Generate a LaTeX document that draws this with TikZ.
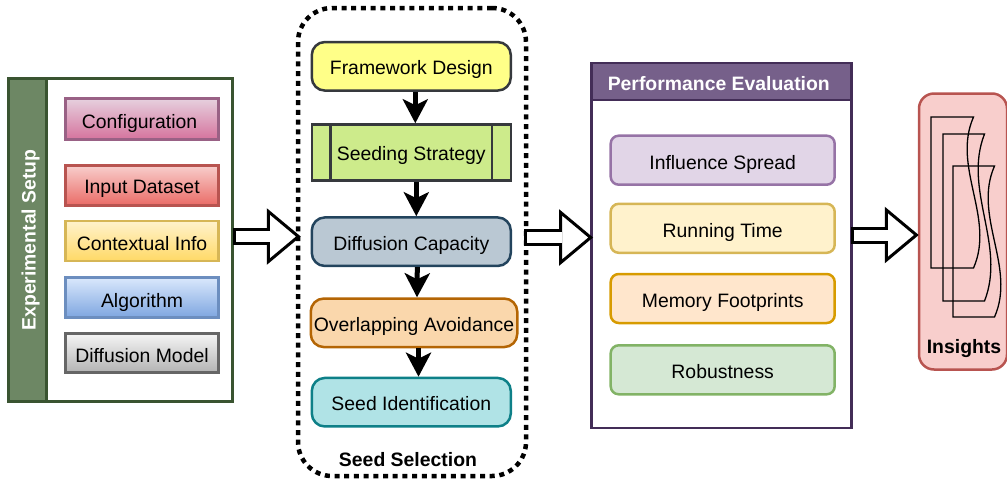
\documentclass[tikz,border=0pt]{standalone}
\usepackage{fontspec}
\setmainfont{Liberation Sans}
\usetikzlibrary{arrows.meta}

\definecolor{setupdark}{HTML}{3A5431}
\definecolor{setupfill}{HTML}{6D8764}
\definecolor{evaldark}{HTML}{432D57}
\definecolor{evalfill}{HTML}{76608A}
\definecolor{slate}{HTML}{36393D}

\tikzset{
  setupbox/.style={rectangle, draw, line width=2.5pt, minimum width=153pt, minimum height=40pt},
  seedbox/.style={rectangle, rounded corners=13pt, draw, line width=2.5pt, minimum width=199pt, minimum height=48.5pt},
  evalbox/.style={rectangle, rounded corners=8pt, draw, line width=2.5pt, minimum width=224pt, minimum height=49pt},
  flowarrow/.style={line width=5pt, -{Stealth[length=24pt, width=25pt, inset=6pt]}},
  hollowarrow/.style={line width=3pt, double=white, double distance=11pt,
    {Bar[width=17pt, line width=3pt]}-{Triangle[open, length=34pt, width=56pt, fill=white]},
    postaction={draw=white, line width=11pt, double=none, -, shorten >=31pt, shorten <=3pt}},
}

\begin{document}
\begin{tikzpicture}[x=1pt, y=-1pt, inner sep=0pt, text height=17.5pt, text depth=0pt, font=\fontsize{19.4}{23}\selectfont]
  \useasboundingbox (0,0) rectangle (1007,480);

  % experimental setup
  \node[rectangle, draw=setupdark, line width=2.5pt, minimum width=224pt, minimum height=323pt] (setup) at (120.5,240) {};
  \node[rectangle, draw=setupdark, line width=2.5pt, fill=setupfill, rotate=90, anchor=north, minimum width=323pt, minimum height=38pt, text=white, text height=16pt] (setuphead) at (setup.west) {\textbf{Experimental Setup}};
  \node[setupbox, draw={rgb,255:red,153;green,97;blue,133}, top color={rgb,255:red,230;green,208;blue,222}, bottom color={rgb,255:red,213;green,115;blue,157}, minimum height=41pt, text height=19pt] (config) at (142,119) {\hspace{-5pt}Configuration};
  \node[setupbox, draw={rgb,255:red,184;green,84;blue,80}, top color={rgb,255:red,248;green,206;blue,204}, bottom color={rgb,255:red,234;green,107;blue,102}, below of=config, node distance=66.5pt, text height=16pt] (dataset) {Input Dataset};
  \node[setupbox, draw={rgb,255:red,214;green,182;blue,86}, top color={rgb,255:red,255;green,242;blue,204}, bottom color={rgb,255:red,255;green,217;blue,102}, below of=dataset, node distance=55.5pt, text height=19pt] (context) {Contextual Info};
  \node[setupbox, draw={rgb,255:red,108;green,142;blue,191}, top color={rgb,255:red,218;green,232;blue,252}, bottom color={rgb,255:red,126;green,166;blue,224}, below of=context, node distance=56.5pt, text height=19pt] (algo) {Algorithm};
  \node[setupbox, draw={rgb,255:red,102;green,102;blue,102}, top color={rgb,255:red,245;green,245;blue,245}, bottom color={rgb,255:red,179;green,179;blue,179}, below of=algo, node distance=55.5pt, minimum height=39pt, text height=19pt] (diffmodel) {Diffusion Model};

  % seed selection
  \node[rectangle, rounded corners=34pt, draw, line width=4.5pt, dash pattern=on 5pt off 4.7pt, minimum width=228pt, minimum height=468pt] (selection) at (412,242) {};
  \node[seedbox, draw=slate, fill={rgb,255:red,255;green,255;blue,136}, text height=16pt] (design) at (411.3,66.3) {Framework Design};
  \node[seedbox, rounded corners=0pt, draw=slate, fill={rgb,255:red,205;green,235;blue,139}, below of=design, node distance=86.2pt, minimum height=56pt, text height=16pt] (strategy) {Seeding Strategy};
  \node[seedbox, draw={rgb,255:red,35;green,68;blue,93}, fill={rgb,255:red,186;green,200;blue,211}, below of=strategy, node distance=89.2pt] (capacity) {Diffusion Capacity};
  \node[seedbox, draw={rgb,255:red,180;green,101;blue,4}, fill={rgb,255:red,250;green,215;blue,172}, minimum width=206.5pt] (overlap) at (414,322.8) {Overlapping Avoidance};
  \node[seedbox, draw={rgb,255:red,14;green,128;blue,136}, fill={rgb,255:red,176;green,227;blue,230}, text height=16pt] (identify) at (411.3,402.2) {Seed Identification};
  \node[text height=14pt] (selectionlabel) at (408,459) {\textbf{Seed Selection}};
  \draw[slate, line width=2.5pt] ([xshift=20pt]strategy.north west) -- ([xshift=20pt]strategy.south west);
  \draw[slate, line width=2.5pt] ([xshift=-20pt]strategy.north east) -- ([xshift=-20pt]strategy.south east);

  % performance evaluation
  \node[rectangle, draw=evaldark, line width=2.5pt, minimum width=260pt, minimum height=365pt] (eval) at (721.3,245.4) {};
  \node[rectangle, draw=evaldark, line width=2.5pt, fill=evalfill, anchor=north, minimum width=260pt, minimum height=37pt, text=white, text height=18pt] (evalhead) at (eval.north) {\hspace{-5pt}\textbf{Performance Evaluation}};
  \node[evalbox, draw={rgb,255:red,150;green,115;blue,166}, fill={rgb,255:red,225;green,213;blue,231}, text height=19pt] (spread) at (722.7,160.2) {Influence Spread};
  \node[evalbox, draw={rgb,255:red,214;green,182;blue,86}, fill={rgb,255:red,255;green,242;blue,204}, below of=spread, node distance=68.1pt] (runtime) {Running Time};
  \node[evalbox, draw={rgb,255:red,215;green,155;blue,0}, fill={rgb,255:red,255;green,230;blue,204}, below of=runtime, node distance=70.2pt] (memory) {Memory Footprints};
  \node[evalbox, draw={rgb,255:red,130;green,179;blue,102}, fill={rgb,255:red,213;green,232;blue,212}, below of=memory, node distance=71.3pt] (robust) {Robustness};

  % insights
  \node[rectangle, rounded corners=15pt, draw={rgb,255:red,184;green,84;blue,80}, fill={rgb,255:red,248;green,206;blue,204}, line width=2.5pt, minimum width=88pt, minimum height=276pt] (insights) at (963,231.5) {};
  \node[text height=14pt] (insightslabel) at (964,346) {\textbf{Insights}};
  \draw[line width=1.3pt] (931,117) -- (973.5,117) .. controls (951.5,167) and (995.5,218) .. (973.5,268) -- (931,268) -- cycle;
  \draw[line width=1.3pt] (943,134) -- (984.5,134) .. controls (962.5,190) and (1006.5,245) .. (984.5,301) -- (943,301) -- cycle;
  \draw[line width=1.3pt] (953,166) -- (994.5,166) .. controls (972.5,216) and (1016.5,267) .. (994.5,317) -- (953,317) -- cycle;

  % connectors
  \draw[flowarrow] ([xshift=4pt]design.south) -- ([xshift=4pt]strategy.north);
  \draw[flowarrow] ([xshift=5pt]strategy.south) -- ([xshift=5pt]capacity.north);
  \draw[flowarrow] ([xshift=6pt]capacity.south) -- ([xshift=3pt]overlap.north);
  \draw[flowarrow] ([xshift=4.5pt]overlap.south) -- ([xshift=7.2pt]identify.north);
  \draw[hollowarrow] ([xshift=-1pt, yshift=3.5pt]setup.east) -- ([xshift=5pt, yshift=3.5pt]setup.east -| selection.west);
  \draw[hollowarrow] ([xshift=-4pt, yshift=4.5pt]selection.east) -- ([xshift=3pt, yshift=4.5pt]selection.east -| eval.west);
  \draw[hollowarrow] ([xshift=-2pt, yshift=10.4pt]eval.east) -- ([xshift=1pt, yshift=10.4pt]eval.east -| insights.west);
\end{tikzpicture}
\end{document}
